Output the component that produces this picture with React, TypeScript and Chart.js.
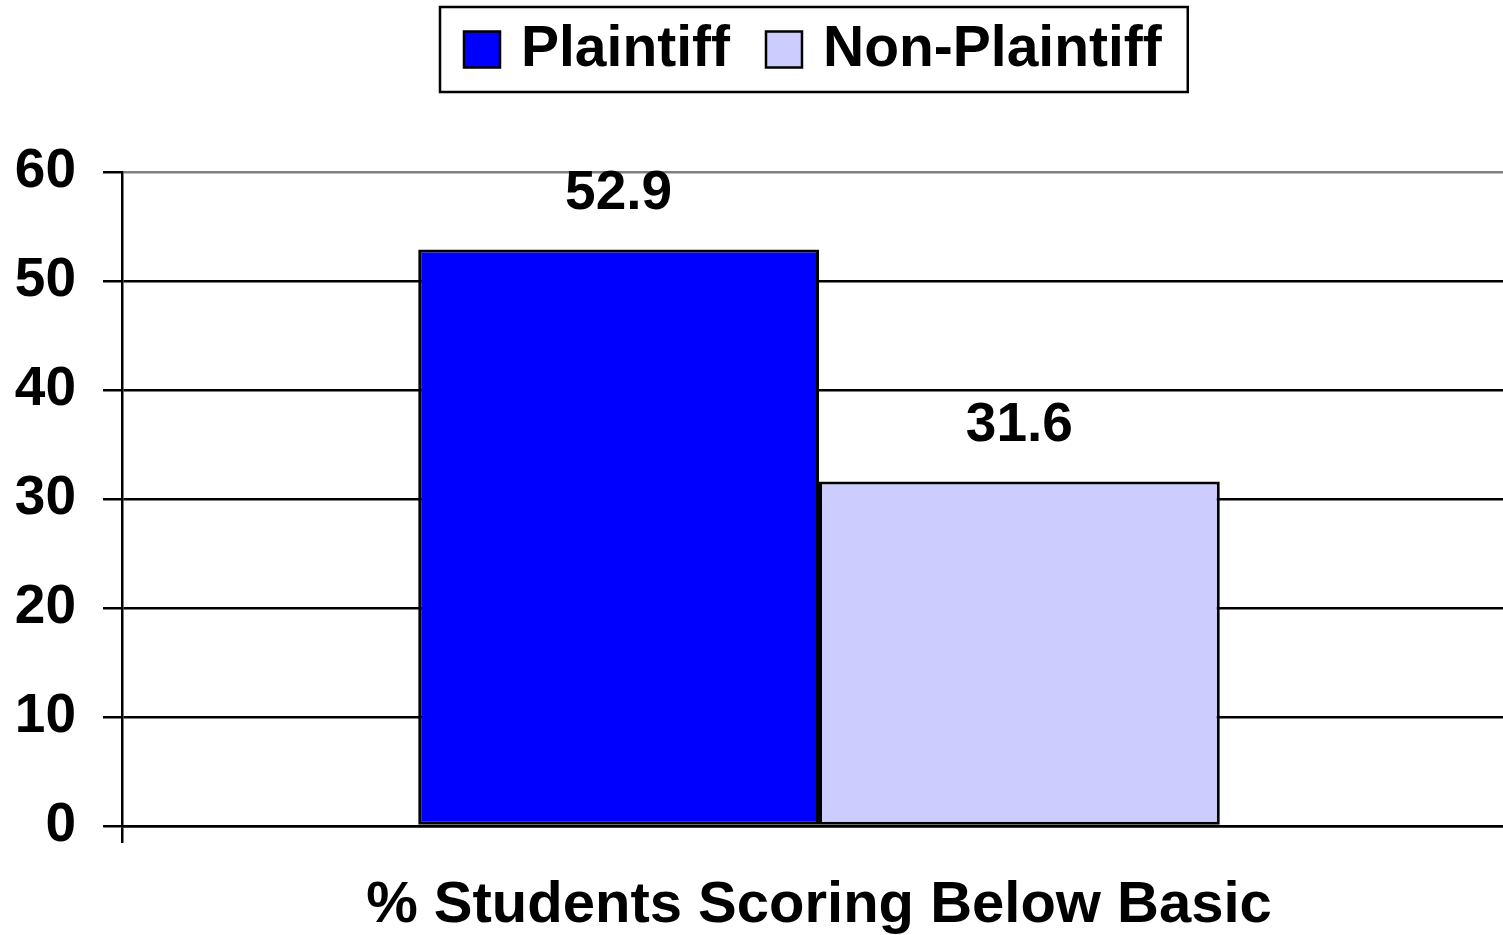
import React, { useEffect, useRef } from "react";
import { Chart, registerables } from "chart.js";

Chart.register(...registerables);

const categories = ["% Students Scoring Below Basic"];
const seriesNames = ["Plaintiff", "Non-Plaintiff"];
const plaintiffValues = [52.9];
const nonPlaintiffValues = [31.6];
const seriesColors = ["#0000FF", "#CCCCFF"];
const yMin = 0;
const yMax = 60;
const yStep = 10;

const FONT_FAMILY = '"Liberation Sans", Arial, Helvetica, sans-serif';
const FONT_SIZE = 55;

const valueLabelPlugin = {
  id: "valueLabels",
  afterDatasetsDraw(chart: any) {
    const ctx = chart.ctx;
    ctx.save();
    ctx.font = `bold ${FONT_SIZE}px ${FONT_FAMILY}`;
    ctx.fillStyle = "#000";
    ctx.textAlign = "center";
    ctx.textBaseline = "middle";
    chart.data.datasets.forEach((ds: any, i: number) => {
      const meta = chart.getDatasetMeta(i);
      meta.data.forEach((el: any, j: number) => {
        const v = ds.data[j];
        ctx.fillText(Number(v).toFixed(1), el.x, el.y - 56);
      });
    });
    ctx.restore();
  },
};

const boxedLegendPlugin = {
  id: "boxedLegend",
  afterDraw(chart: any) {
    const ctx = chart.ctx;
    const area = chart.chartArea;
    ctx.save();
    ctx.font = `bold ${FONT_SIZE + 2}px ${FONT_FAMILY}`;
    const sq = 36;
    const padL = 24;
    const gapBT = 21;
    const gapItem = 36;
    const padR = 26;
    const widths = chart.data.datasets.map((d: any) => ctx.measureText(d.label).width);
    let total = padL + padR;
    widths.forEach((w: number, i: number) => {
      total += sq + gapBT + w + (i > 0 ? gapItem : 0);
    });
    const cx = (area.left + area.right) / 2 - 5;
    const left = Math.round(cx - total / 2);
    const top = 7;
    const h = 85;
    const midY = top + h / 2;
    ctx.lineWidth = 2.5;
    ctx.strokeStyle = "#000";
    ctx.fillStyle = "#fff";
    ctx.fillRect(left, top, total, h);
    ctx.strokeRect(left, top, total, h);
    let x = left + padL;
    chart.data.datasets.forEach((d: any, i: number) => {
      if (i > 0) x += gapItem;
      ctx.fillStyle = d.backgroundColor;
      ctx.fillRect(x, midY - sq / 2, sq, sq);
      ctx.strokeStyle = "#000";
      ctx.lineWidth = 2.5;
      ctx.strokeRect(x, midY - sq / 2, sq, sq);
      x += sq + gapBT;
      ctx.fillStyle = "#000";
      ctx.textAlign = "left";
      ctx.textBaseline = "middle";
      ctx.fillText(d.label, x, midY + 1);
      x += widths[i];
    });
    ctx.restore();
  },
};

export default function App() {
  const canvasRef = useRef<HTMLCanvasElement | null>(null);

  useEffect(() => {
    if (!canvasRef.current) return;
    Chart.defaults.font.family = FONT_FAMILY;
    Chart.defaults.color = "#000";
    const chart = new Chart(canvasRef.current, {
      type: "bar",
      data: {
        labels: categories,
        datasets: [
          {
            label: seriesNames[0],
            data: plaintiffValues,
            backgroundColor: seriesColors[0],
            borderColor: "#000",
            borderWidth: 3,
            borderSkipped: false,
          },
          {
            label: seriesNames[1],
            data: nonPlaintiffValues,
            backgroundColor: seriesColors[1],
            borderColor: "#000",
            borderWidth: 3,
            borderSkipped: false,
          },
        ],
      },
      options: {
        responsive: false,
        animation: false,
        devicePixelRatio: 1,
        layout: { padding: { top: 172, left: 0, right: 0, bottom: 0 } },
        plugins: {
          legend: { display: false },
          tooltip: { enabled: false },
          title: { display: false },
        },
        datasets: {
          bar: { categoryPercentage: 0.575, barPercentage: 1.0 },
        },
        scales: {
          x: {
            offset: true,
            grid: {
              display: true,
              offset: true,
              drawOnChartArea: false,
              drawTicks: true,
              tickLength: 17,
              color: "#000",
              lineWidth: 2.5,
            },
            border: { display: true, color: "#000", width: 2.5 },
            ticks: {
              font: { size: FONT_SIZE + 3, weight: "bold" },
              color: "#000",
              padding: 28,
              maxRotation: 0,
            },
            afterFit(scale: any) {
              scale.height = 109;
            },
          },
          y: {
            min: yMin,
            max: yMax,
            ticks: {
              stepSize: yStep,
              font: { size: FONT_SIZE, weight: "bold" },
              color: "#000",
              padding: 27,
            },
            grid: {
              color: (c: any) => (c.tick && c.tick.value === yMax ? "#808080" : "#000"),
              tickColor: "#000",
              lineWidth: 2.5,
              drawTicks: true,
              tickLength: 19,
            },
            border: { display: true, color: "#000", width: 2.5 },
            afterFit(scale: any) {
              scale.width = 122;
            },
          },
        },
      },
      plugins: [valueLabelPlugin, boxedLegendPlugin],
    });
    return () => chart.destroy();
  }, []);

  return (
    <div
      style={{
        position: "absolute",
        left: 0,
        top: 0,
        width: 1503,
        height: 935,
        overflow: "hidden",
        background: "#fff",
      }}
    >
      <canvas ref={canvasRef} width={1516} height={935} style={{ width: 1516, height: 935, display: "block" }} />
    </div>
  );
}
